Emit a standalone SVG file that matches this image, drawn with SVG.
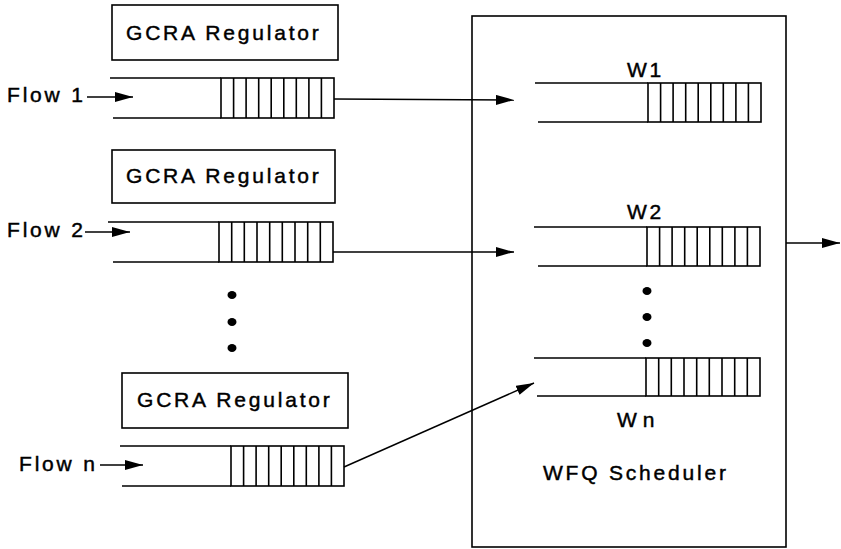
<svg xmlns="http://www.w3.org/2000/svg" width="841" height="549" viewBox="0 0 841 549">
<defs>
<marker id="ah" markerUnits="userSpaceOnUse" markerWidth="19" markerHeight="11" refX="18" refY="5" orient="auto">
<path d="M0,0 L18,5 L0,10 Z" fill="#000"/>
</marker>
<style>
.box{fill:#fff;stroke:#000;stroke-width:1.6}
.q{fill:none;stroke:#000;stroke-width:1.6}
.c{fill:none;stroke:#000;stroke-width:1.4}
.t{font-family:"Liberation Sans",Arial,sans-serif;font-size:21px;letter-spacing:2.8px;fill:#000;stroke:#000;stroke-width:0.45}
.dot{fill:#000}
</style>
</defs>
<rect width="841" height="549" fill="#fff"/>

<g id="scheduler">
<rect class="box" x="472" y="16" width="314" height="531"/>
<text class="t" x="543" y="480">WFQ Scheduler</text>
</g>

<g id="reg1">
<rect class="box" x="112" y="5" width="226" height="55"/>
<text class="t" x="126" y="40">GCRA Regulator</text>
</g>
<g id="reg2">
<rect class="box" x="112" y="150" width="223" height="53"/>
<text class="t" x="126" y="183">GCRA Regulator</text>
</g>
<g id="reg3">
<rect class="box" x="122" y="373" width="226" height="55"/>
<text class="t" x="137" y="407">GCRA Regulator</text>
</g>

<g id="flow1">
<text class="t" x="7" y="102">Flow 1</text>
</g>
<g id="flow2">
<text class="t" x="7" y="237">Flow 2</text>
</g>
<g id="flown">
<text class="t" x="19" y="471">Flow n</text>
</g>

<g id="queue1">
<path class="q" d="M110,78 H221 M113,118 H221"/>
<rect class="q" x="221" y="78" width="113" height="40"/>
<path class="q" d="M233.6,78V118M246.1,78V118M258.7,78V118M271.2,78V118M283.8,78V118M296.3,78V118M308.9,78V118M321.4,78V118"/>
</g>
<g id="queue2">
<path class="q" d="M108,222 H219 M113,262 H219"/>
<rect class="q" x="219" y="222" width="114" height="40"/>
<path class="q" d="M231.7,222V262M244.3,222V262M257,222V262M269.7,222V262M282.3,222V262M295,222V262M307.7,222V262M320.3,222V262"/>
</g>
<g id="queuen">
<path class="q" d="M120,446 H231 M122,486 H231"/>
<rect class="q" x="231" y="446" width="113" height="40"/>
<path class="q" d="M243.6,446V486M256.1,446V486M268.7,446V486M281.2,446V486M293.8,446V486M306.3,446V486M318.9,446V486M331.4,446V486"/>
</g>

<g id="dotsLeft">
<ellipse class="dot" cx="232" cy="295" rx="4.5" ry="4"/>
<ellipse class="dot" cx="232" cy="322" rx="4.5" ry="4"/>
<ellipse class="dot" cx="232" cy="348" rx="4.5" ry="4"/>
</g>

<g id="w1">
<text class="t" x="627" y="77">W1</text>
<path class="q" d="M535,83 H648 M538,122 H648"/>
<rect class="q" x="648" y="83" width="113" height="39"/>
<path class="q" d="M660.6,83V122M673.1,83V122M685.7,83V122M698.2,83V122M710.8,83V122M723.3,83V122M735.9,83V122M748.4,83V122"/>
</g>
<g id="w2">
<text class="t" x="627" y="219">W2</text>
<path class="q" d="M534,227 H647 M538,266 H647"/>
<rect class="q" x="647" y="227" width="113" height="39"/>
<path class="q" d="M659.6,227V266M672.1,227V266M684.7,227V266M697.2,227V266M709.8,227V266M722.3,227V266M734.9,227V266M747.4,227V266"/>
</g>
<g id="wn">
<text class="t" x="617" y="427">W<tspan dx="3">n</tspan></text>
<path class="q" d="M534,358 H646 M537,396 H646"/>
<rect class="q" x="646" y="358" width="114" height="38"/>
<path class="q" d="M658.7,358V396M671.3,358V396M684,358V396M696.7,358V396M709.3,358V396M722,358V396M734.7,358V396M747.3,358V396"/>
</g>

<g id="dotsRight">
<ellipse class="dot" cx="647" cy="291" rx="4.5" ry="4"/>
<ellipse class="dot" cx="647" cy="317" rx="4.5" ry="4"/>
<ellipse class="dot" cx="647" cy="343" rx="4.5" ry="4"/>
</g>

<g id="connectors">
<line class="c" x1="87" y1="97" x2="133" y2="97" marker-end="url(#ah)"/>
<line class="c" x1="85" y1="232" x2="130" y2="232" marker-end="url(#ah)"/>
<line class="c" x1="100" y1="465" x2="143" y2="465" marker-end="url(#ah)"/>
<line class="c" x1="334" y1="99" x2="514" y2="100" marker-end="url(#ah)"/>
<line class="c" x1="333" y1="252" x2="514" y2="252" marker-end="url(#ah)"/>
<line class="c" x1="344" y1="467" x2="534" y2="383" marker-end="url(#ah)"/>
<line class="c" x1="786" y1="243" x2="840" y2="243" marker-end="url(#ah)"/>
</g>
</svg>
